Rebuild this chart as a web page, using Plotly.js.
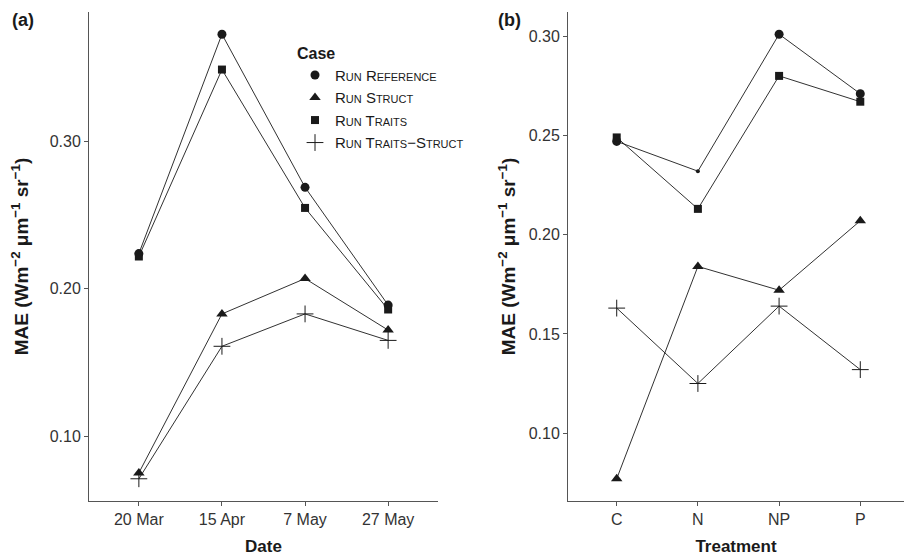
<!DOCTYPE html>
<html>
<head>
<meta charset="utf-8">
<script src="https://cdn.plot.ly/plotly-3.0.1.min.js"></script>
<style>html,body{margin:0;padding:0;background:#fff;}#chart{width:904px;height:559px;}</style>
</head>
<body>
<div id="chart"></div>
<script>
// ---- data ----
const dates = ['20 Mar', '15 Apr', '7 May', '27 May'];
const treatments = ['C', 'N', 'NP', 'P'];
const caseNames = ['Run Reference', 'Run Struct', 'Run Traits', 'Run Traits\u2212Struct'];

const aReference = [0.224, 0.373, 0.269, 0.189];
const aStruct = [0.075, 0.183, 0.207, 0.172];
const aTraits = [0.222, 0.349, 0.255, 0.186];
const aTraitsStruct = [0.071, 0.161, 0.183, 0.165];

const bReference = [0.247, 0.232, 0.301, 0.271];
const bStruct = [0.077, 0.184, 0.172, 0.207];
const bTraits = [0.249, 0.213, 0.280, 0.267];
const bTraitsStruct = [0.163, 0.125, 0.164, 0.132];

const aTicks = [0.10, 0.20, 0.30];
const aTickText = ['0.10', '0.20', '0.30'];
const bTicks = [0.10, 0.15, 0.20, 0.25, 0.30];
const bTickText = ['0.10', '0.15', '0.20', '0.25', '0.30'];

// ---- styling ----
const FONT = 'Liberation Sans, Arial, Helvetica, sans-serif';
const INK = '#1a1a1a';
const symbols = [
  {symbol: 'circle', size: 9},
  {symbol: 'triangle-up', size: 10},
  {symbol: 'square', size: 8},
  {symbol: 'cross-thin-open', size: 12}
];

function expandRange(arrs) {
  const all = [].concat(...arrs);
  const mn = Math.min(...all), mx = Math.max(...all);
  const r = mx - mn;
  return [mn - 0.05 * r, mx + 0.05 * r];
}

const traces = [];
const aSeries = [aReference, aStruct, aTraits, aTraitsStruct];
const bSeries = [bReference, bStruct, bTraits, bTraitsStruct];

// lines first
aSeries.forEach(s => traces.push({x: dates, y: s, xaxis: 'x', yaxis: 'y', mode: 'lines',
  line: {color: INK, width: 0.9}, showlegend: false, hoverinfo: 'skip'}));
bSeries.forEach(s => traces.push({x: treatments, y: s, xaxis: 'x2', yaxis: 'y2', mode: 'lines',
  line: {color: INK, width: 0.9}, showlegend: false, hoverinfo: 'skip'}));

// markers
aSeries.forEach((s, i) => traces.push({x: dates, y: s, xaxis: 'x', yaxis: 'y', mode: 'markers',
  name: caseNames[i], legendgroup: 'g' + i, showlegend: true,
  marker: {color: INK, opacity: 1, symbol: symbols[i].symbol, size: symbols[i].size,
    line: {color: INK, width: i === 3 ? 1 : 0}}}));
bSeries.forEach((s, i) => traces.push({x: treatments, y: s, xaxis: 'x2', yaxis: 'y2', mode: 'markers',
  name: caseNames[i], legendgroup: 'g' + i, showlegend: false,
  marker: {color: INK, opacity: 1, symbol: symbols[i].symbol,
    size: i === 0 ? [9, 4, 9, 9] : symbols[i].size,
    line: {color: INK, width: i === 3 ? 1 : 0}}}));

const W = 904, H = 559;
const yDom = [1 - 501 / H, 1 - 12 / H];

const commonX = {
  type: 'category', showline: true, linecolor: '#555', linewidth: 1,
  ticks: 'outside', ticklen: 4, tickcolor: '#555', tickwidth: 1,
  showgrid: false, zeroline: false,
  tickfont: {family: FONT, size: 16, color: '#333'}
};
const commonY = {
  showline: true, linecolor: '#555', linewidth: 1,
  ticks: 'outside', ticklen: 4, tickcolor: '#555', tickwidth: 1,
  showgrid: false, zeroline: false,
  tickfont: {family: FONT, size: 16, color: '#333'}
};
const yTitle = 'MAE (Wm<sup>\u22122</sup> \u03bcm<sup>\u22121</sup> sr<sup>\u22121</sup>)';

const layout = {
  width: W, height: H,
  margin: {l: 0, r: 0, t: 0, b: 0},
  paper_bgcolor: '#fff', plot_bgcolor: '#fff',
  font: {family: FONT, color: INK},
  xaxis: Object.assign({}, commonX, {
    domain: [89 / W, 438 / W], anchor: 'y', range: [-0.6, 3.6],
    title: {text: '<b>Date</b>', font: {family: FONT, size: 17, color: INK}, standoff: 12}
  }),
  yaxis: Object.assign({}, commonY, {
    domain: yDom, anchor: 'x', range: expandRange(aSeries),
    tickvals: aTicks, ticktext: aTickText,
    title: {text: '<b>' + yTitle + '</b>', font: {family: FONT, size: 19, color: INK}, standoff: 16}
  }),
  xaxis2: Object.assign({}, commonX, {
    domain: [568 / W, 1], anchor: 'y2', range: [-0.6, 3.6 - 5 / 81.2],
    title: {text: '<b>Treatment</b>', font: {family: FONT, size: 17, color: INK}, standoff: 12}
  }),
  yaxis2: Object.assign({}, commonY, {
    domain: yDom, anchor: 'x2', range: expandRange(bSeries),
    tickvals: bTicks, ticktext: bTickText,
    title: {text: '<b>' + yTitle + '</b>', font: {family: FONT, size: 19, color: INK}, standoff: 8}
  }),
  legend: {
    x: 295 / W, y: 1 - 38 / H, xanchor: 'left', yanchor: 'top',
    bgcolor: 'rgba(0,0,0,0)', borderwidth: 0,
    title: {text: '<b>Case</b>', font: {family: FONT, size: 16, color: INK, variant: 'normal'}},
    font: {family: FONT, size: 15, color: INK, variant: 'small-caps'},
    itemwidth: 30, tracegroupgap: 0
  },
  annotations: [
    {text: '<b>(a)</b>', xref: 'paper', yref: 'paper', x: 10 / W, y: 1 - 8 / H,
      xanchor: 'left', yanchor: 'top', showarrow: false, font: {family: FONT, size: 18, color: INK}},
    {text: '<b>(b)</b>', xref: 'paper', yref: 'paper', x: 496 / W, y: 1 - 8 / H,
      xanchor: 'left', yanchor: 'top', showarrow: false, font: {family: FONT, size: 18, color: INK}}
  ],
  showlegend: true
};

Plotly.newPlot('chart', traces, layout, {displayModeBar: false, staticPlot: true});
</script>
</body>
</html>
